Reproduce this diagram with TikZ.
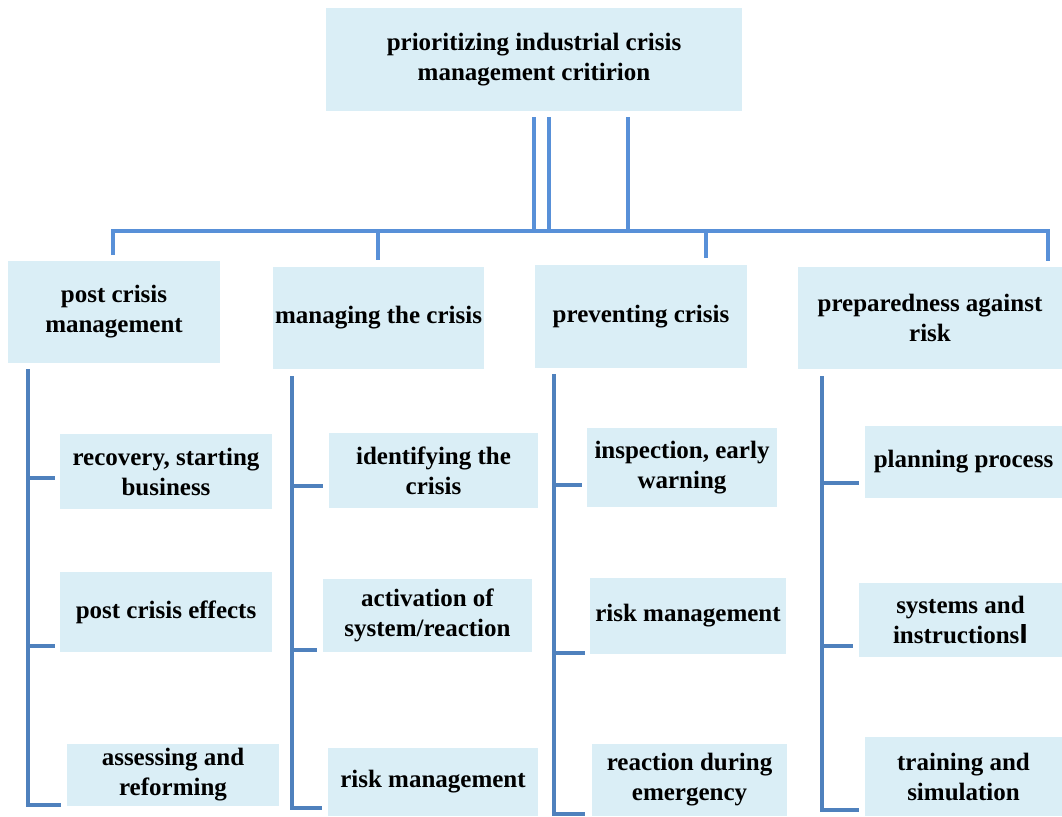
\documentclass[tikz,border=0pt]{standalone}
\usepackage{fontspec}
\setmainfont{Liberation Serif}
\newfontfamily\arabicfont[Script=Arabic]{DejaVu Sans}
\definecolor{boxfill}{HTML}{DAEEF6}
\definecolor{lineblue}{HTML}{4F81BD}
\definecolor{topblue}{HTML}{5890D8}
\newcommand\bx[6]{\node[bx, minimum width={(#4-#2)*1pt}, minimum height={(#5-#3)*1pt}] (#1) at ({(#2+#4)/2},{(#3+#5)/2}) {#6};}
\begin{document}
\begin{tikzpicture}[x=1pt,y=-1pt,
  bx/.style={fill=boxfill, inner sep=0pt, align=center, font=\fontsize{25}{30}\selectfont\bfseries},
  lnk/.style={line width=4pt, draw=lineblue, line join=miter},
  toplnk/.style={lnk, draw=topblue}]
\clip (0,0) rectangle (1062,816);
\fill[white] (0,0) rectangle (1062,816);

% boxes
\bx{title}{326}{8}{742}{111}{prioritizing industrial crisis\\management critirion}
\bx{pcm}{8}{261}{220}{363}{post crisis\\management}
\bx{mtc}{273}{267}{484}{369}{managing the crisis}
\bx{prev}{535}{265}{747}{368}{preventing crisis}
\bx{prep}{798}{267}{1062}{369}{preparedness against\\risk}
\bx{c11}{60}{434}{272}{509}{recovery, starting\\business}
\bx{c12}{60}{572}{272}{652}{post crisis effects}
\bx{c13}{67}{744}{279}{806}{assessing and\\reforming}
\bx{c21}{329}{433}{538}{508}{identifying the\\crisis}
\bx{c22}{323}{579}{532}{652}{activation of\\system/reaction}
\bx{c23}{328}{748}{538}{816}{risk management}
\bx{c31}{587}{428}{777}{507}{inspection, early\\warning}
\bx{c32}{590}{578}{786}{654}{risk management}
\bx{c33}{592}{744}{787}{816}{reaction during\\emergency}
\bx{c41}{865}{426}{1062}{498}{planning process}
\bx{c42}{859}{583}{1062}{657}{systems and\\instructions{\arabicfont ا}}
\bx{c43}{865}{737}{1062}{816}{training and\\simulation}

% top bus
\coordinate (bus) at (534,231);
\coordinate (t1) at (534,117);
\coordinate (t2) at (549,117);
\coordinate (t3) at (628,117);
\coordinate (d1) at (113,255);
\coordinate (d2) at (378,260);
\coordinate (d3) at (706,258);
\coordinate (d4) at (1048,261);
\draw[toplnk] (t1) -- (t1 |- bus);
\draw[toplnk] (t2) -- (t2 |- bus);
\draw[toplnk] (t3) -- (t3 |- bus);
\draw[toplnk] (d1) -- (d1 |- bus) -- (d4 |- bus) -- (d4);
\draw[toplnk] (d2 |- bus) -- (d2);
\draw[toplnk] (d3 |- bus) -- (d3);

% column 1
\coordinate (v1) at (28,369);
\coordinate (k11) at (55,478);
\coordinate (k12) at (55,646);
\coordinate (k13) at (61,805);
\draw[lnk] (v1) -- (v1 |- k13) -- (k13);
\draw[lnk] (v1 |- k11) -- (k11);
\draw[lnk] (v1 |- k12) -- (k12);

% column 2
\coordinate (v2) at (292,376);
\coordinate (k21) at (323,486);
\coordinate (k22) at (317,650);
\coordinate (k23) at (322,808);
\draw[lnk] (v2) -- (v2 |- k23) -- (k23);
\draw[lnk] (v2 |- k21) -- (k21);
\draw[lnk] (v2 |- k22) -- (k22);

% column 3
\coordinate (v3) at (554,374);
\coordinate (k31) at (582,485);
\coordinate (k32) at (585,653);
\coordinate (k33) at (585,814);
\draw[lnk] (v3) -- (v3 |- k33) -- (k33);
\draw[lnk] (v3 |- k31) -- (k31);
\draw[lnk] (v3 |- k32) -- (k32);

% column 4
\coordinate (v4) at (822,376);
\coordinate (k41) at (859,483);
\coordinate (k42) at (853,646);
\coordinate (k43) at (859,810);
\draw[lnk] (v4) -- (v4 |- k43) -- (k43);
\draw[lnk] (v4 |- k41) -- (k41);
\draw[lnk] (v4 |- k42) -- (k42);
\end{tikzpicture}
\end{document}
